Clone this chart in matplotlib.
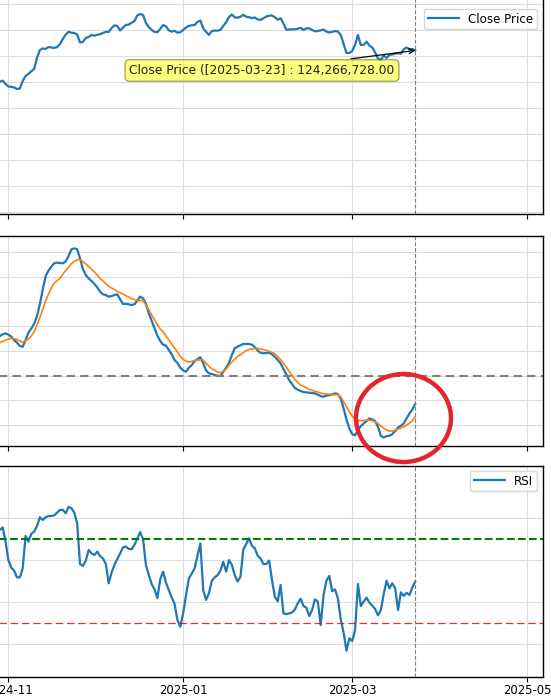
import matplotlib
matplotlib.use("Agg")
import matplotlib.pyplot as plt
import matplotlib.dates as mdates
from matplotlib.patches import Ellipse
import pandas as pd
import numpy as np

# daily values, 2024-10-29 .. 2025-03-23 (KRW, millions for price and MACD)
dates = pd.date_range("2024-10-29", "2025-03-23", freq="D")

close_m = [
    100.2, 101.0, 98.5,
    96.5, 96.3, 95.8, 94.6, 95.0, 100.8, 104.6, 106.2, 108.3, 110.0,
    118.8, 124.6, 125.8, 125.4, 126.9, 126.5, 126.2, 126.9, 129.2, 133.1,
    136.5, 138.6, 137.9, 137.7, 136.5, 130.4, 130.8, 133.8, 134.6, 136.2,
    135.5, 136.3, 136.7, 137.7, 138.5, 138.5, 141.5, 143.5, 143.1, 139.6,
    141.9, 143.8, 144.2, 145.6, 146.9, 151.2, 152.3, 151.5, 145.4, 142.3,
    140.0, 138.5, 138.3, 140.8, 143.8, 142.8, 139.7, 138.7, 139.4, 137.9,
    138.2, 140.0, 141.9, 143.2, 143.6, 143.8, 146.2, 147.3, 141.3, 138.6,
    136.2, 139.2, 139.5, 139.5, 140.0, 143.1, 145.9, 150.0, 151.9, 149.8,
    149.4, 150.2, 151.7, 150.2, 149.8, 149.1, 149.6, 148.1, 147.7, 149.0,
    150.4, 150.9, 151.2, 149.8, 147.9, 149.0, 145.0, 140.2, 140.4, 140.5,
    140.5, 140.9, 141.7, 140.0, 141.2, 141.3, 140.0, 139.0, 139.2, 139.7,
    140.4, 138.7, 138.1, 138.5, 139.2, 138.8, 136.2, 129.2, 122.3, 122.3,
    123.8, 128.5, 136.2, 128.5, 128.5, 131.0, 128.1, 126.5, 122.7, 118.1,
    116.9, 120.4, 118.5, 120.8, 121.2, 121.9, 122.1, 121.7, 125.2, 126.5,
    125.2, 125.4, 124.266728,
]

macd_m = [
    3.21, 3.35, 3.43,
    3.32, 3.16, 2.89, 2.67, 2.40, 2.35, 2.89, 3.48, 3.83, 4.21,
    4.83, 5.81, 6.99, 8.07, 8.51, 8.83, 9.10, 9.15, 9.13, 9.10,
    9.26, 9.69, 10.23, 10.31, 10.23, 9.50, 8.64, 8.15, 7.88, 7.67,
    7.43, 7.16, 6.80, 6.59, 6.53, 6.40, 6.45, 6.53, 6.59, 6.18,
    5.81, 5.81, 5.78, 5.72, 5.78, 6.08, 6.40, 6.26, 5.81, 5.05,
    4.46, 3.83, 3.24, 2.81, 2.51, 2.43, 2.08, 1.73, 1.27, 1.03,
    0.65, 0.43, 0.32, 0.65, 0.86, 1.19, 1.35, 1.49, 1.00, 0.43,
    0.19, 0.14, 0.06, 0.00, -0.03, 0.32, 0.65, 1.05, 1.67, 2.21,
    2.35, 2.46, 2.57, 2.57, 2.57, 2.51, 2.32, 2.03, 1.86, 1.81,
    1.84, 1.86, 1.73, 1.54, 1.27, 1.00, 0.54, 0.11, -0.35, -0.67,
    -1.00, -1.13, -1.24, -1.32, -1.35, -1.38, -1.40, -1.43, -1.54, -1.65,
    -1.70, -1.62, -1.57, -1.51, -1.43, -1.49, -1.84, -2.65, -3.54, -4.27,
    -4.73, -4.83, -4.40, -4.08, -3.86, -3.67, -3.46, -3.54, -3.67, -4.13,
    -4.86, -5.00, -4.89, -4.86, -4.73, -4.48, -4.19, -4.05, -3.86, -3.46,
    -3.05, -2.73, -2.30,
]

signal_m = [
    2.67, 2.78, 2.89,
    2.97, 3.02, 3.00, 2.92, 2.81, 2.70, 2.84, 2.97, 3.21, 3.56,
    4.10, 4.73, 5.37, 6.08, 6.59, 7.10, 7.51, 7.70, 7.88, 8.21,
    8.51, 8.78, 9.07, 9.26, 9.40, 9.40, 9.23, 9.05, 8.83, 8.61,
    8.40, 8.15, 7.88, 7.67, 7.45, 7.24, 7.10, 6.97, 6.83, 6.72,
    6.61, 6.48, 6.37, 6.24, 6.16, 6.10, 6.08, 6.08, 5.72, 5.32,
    4.91, 4.51, 4.13, 3.78, 3.54, 3.21, 2.89, 2.57, 2.24, 1.92,
    1.59, 1.32, 1.19, 1.11, 1.16, 1.24, 1.27, 1.27, 1.27, 1.00,
    0.76, 0.57, 0.43, 0.30, 0.24, 0.35, 0.54, 0.86, 1.11, 1.32,
    1.57, 1.70, 1.86, 2.03, 2.13, 2.16, 2.21, 2.21, 2.16, 2.11,
    2.05, 1.97, 1.89, 1.78, 1.54, 1.30, 1.00, 0.68, 0.35, 0.03,
    -0.32, -0.54, -0.76, -0.86, -0.97, -1.11, -1.16, -1.27, -1.32, -1.40,
    -1.46, -1.49, -1.51, -1.51, -1.54, -1.54, -1.70, -2.11, -2.51, -2.92,
    -3.27, -3.54, -3.62, -3.64, -3.62, -3.59, -3.59, -3.64, -3.73, -3.86,
    -4.08, -4.24, -4.40, -4.48, -4.48, -4.40, -4.32, -4.24, -4.13, -4.00,
    -3.83, -3.64, -3.32,
]

rsi = [
    74.3, 75.5, 68.7,
    60.0, 56.4, 55.0, 51.8, 51.8, 56.1, 71.4, 68.7, 72.4, 73.5,
    76.2, 80.3, 79.0, 80.3, 80.9, 80.9, 81.2, 82.5, 83.8, 83.8,
    82.2, 85.2, 84.6, 82.5, 77.4, 58.1, 57.2, 59.7, 64.8, 63.2,
    62.4, 64.0, 61.9, 60.8, 58.1, 49.0, 54.0, 57.7, 60.4, 63.2,
    66.0, 66.4, 65.3, 65.1, 67.2, 70.3, 73.3, 69.8, 57.7, 52.9,
    48.7, 46.1, 42.0, 50.9, 54.5, 49.3, 45.8, 42.2, 39.2, 31.6,
    28.4, 34.7, 43.4, 51.3, 53.6, 56.1, 62.1, 67.9, 45.8, 41.1,
    44.2, 50.2, 51.8, 52.8, 55.0, 59.2, 54.5, 60.0, 57.7, 52.9,
    49.8, 52.1, 65.1, 67.6, 70.3, 66.8, 65.6, 62.1, 60.8, 58.1,
    58.1, 59.7, 50.6, 42.6, 40.4, 48.2, 34.7, 34.4, 34.7, 35.2,
    36.6, 39.5, 41.7, 38.2, 37.4, 33.5, 36.3, 41.4, 40.3, 29.2,
    43.4, 50.2, 52.5, 45.3, 46.1, 41.9, 31.9, 25.6, 17.0, 22.9,
    21.6, 26.8, 48.7, 38.2, 40.3, 42.2, 39.8, 38.4, 36.8, 33.8,
    36.3, 43.9, 50.2, 46.6, 49.0, 46.6, 36.3, 44.7, 43.0, 44.5,
    43.4, 47.1, 49.8,
]

W, H = 551, 698
fig = plt.figure(figsize=(W / 100, H / 100), dpi=100)

def add_panel(top, bottom):
    # axes placed in pixels; left edge is off the canvas like the screenshot
    return fig.add_axes([-20 / W, 1 - bottom / H, 563 / W, (bottom - top) / H])

ax1 = add_panel(-2, 214)
ax2 = add_panel(235.5, 446)
ax3 = add_panel(466, 676.7)

nov1 = mdates.date2num(pd.Timestamp("2024-11-01"))
xlim = (nov1 + (-20 - 8.4) / 2.865, nov1 + (543 - 8.4) / 2.865)

blue = "#1f77b4"
grid_c = "#dddddd"

ax1.plot(dates, close_m, color=blue, lw=1.6, label="Close Price")
ax1.set_ylim(-1.54, 164.6)
ax1.set_yticks(np.arange(0, 161, 20))

ax2.plot(dates, macd_m, color=blue, lw=1.6)
ax2.plot(dates, signal_m, color="#ff7f0e", lw=1.2)
ax2.axhline(0, color="gray", ls=(0, (4, 2.5)), lw=1.5)
ax2.set_ylim(-5.69, 11.35)
ax2.set_yticks(np.arange(-4, 11, 2))

ax3.plot(dates, rsi, color=blue, lw=1.6, label="RSI")
ax3.axhline(70, color="green", ls="--", lw=1.5)
ax3.axhline(30, color="red", ls=(0, (6, 3)), lw=0.9, alpha=0.85)
ax3.set_ylim(4.7, 104.6)
ax3.set_yticks([20, 40, 60, 80])

for ax in (ax1, ax2, ax3):
    ax.set_xlim(xlim)
    ax.xaxis.set_major_locator(mdates.MonthLocator(bymonth=[1, 3, 5, 7, 9, 11]))
    ax.xaxis.set_major_formatter(mdates.DateFormatter("%Y-%m"))
    ax.grid(True, color=grid_c, lw=0.8)
    ax.set_axisbelow(True)
    ax.axvline(dates[-1], color="gray", ls="--", lw=0.8)
    ax.tick_params(axis="x", length=3.5, pad=2, labelsize=8.4)
    ax.tick_params(axis="y", labelleft=False, length=0)
    for s in ax.spines.values():
        s.set_linewidth(1.0)
        s.set_color("black")

ax1.tick_params(axis="x", labelbottom=False)
ax2.tick_params(axis="x", labelbottom=False)

ax1.legend(loc="upper right", bbox_to_anchor=(537 / W, 1 - 9 / H),
           bbox_transform=fig.transFigure, borderaxespad=0, fontsize=8.6,
           handlelength=2.6, borderpad=0.3)
ax3.legend(loc="upper right", bbox_to_anchor=(537 / W, 1 - 471 / H),
           bbox_transform=fig.transFigure, borderaxespad=0, fontsize=8.6,
           handlelength=2.6, borderpad=0.3)

# hover-style tooltip on the last close
label = f"Close Price ([{dates[-1]:%Y-%m-%d}] : {close_m[-1] * 1e6:,.2f}"
ax1.annotate(label, xy=(dates[-1], close_m[-1]),
             xytext=(262 / W, 1 - 70.5 / H), textcoords="figure fraction",
             ha="center", va="center", fontsize=8.8, color="#222222",
             bbox=dict(boxstyle="round,pad=0.35", fc="yellow", ec="#555500", alpha=0.5),
             arrowprops=dict(arrowstyle="->", color="k", lw=0.9, shrinkB=0))

# red circle marking the recent MACD turn
fig.add_artist(Ellipse((403.5 / W, 1 - 418 / H), 95 / W, 88 / H,
                       transform=fig.transFigure, fill=False,
                       ec="#e3262d", lw=3.2))

fig.savefig("out.png", dpi=100)
